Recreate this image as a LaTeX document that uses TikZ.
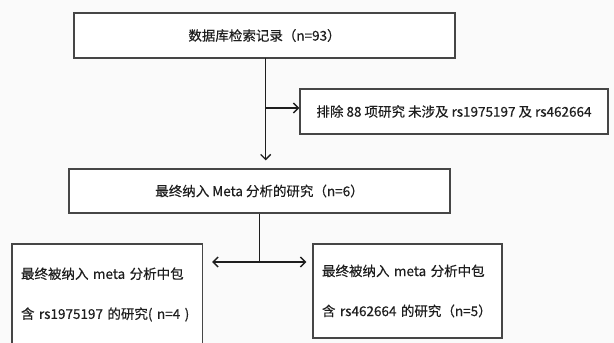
\documentclass[tikz,border=0pt]{standalone}
\usepackage{fontspec}
\setmainfont{Noto Sans CJK SC}[FakeBold=0.35]
\usetikzlibrary{arrows.meta}
\definecolor{bg}{RGB}{250,250,250}
\definecolor{edge}{RGB}{70,70,70}
\definecolor{ink}{RGB}{30,30,30}
\tikzset{
  box/.style={draw=edge, line width=1.4pt, fill=white, inner sep=0pt, text=ink,
    font={\fontsize{13.5}{40}\selectfont}},
  link/.style={draw=ink, line width=1.3pt},
  tip/.style={-{Straight Barb[length=5pt,width=10pt,line width=1.3pt]}}
}
\begin{document}
\begin{tikzpicture}[x=1pt,y=-1pt]
\fill[bg] (0,0) rectangle (614,343);
\useasboundingbox (0,0) rectangle (614,343);
\node[box, minimum width=381pt, minimum height=45pt] (a) at (264.5,35.5) {\raisebox{-2pt}{数据库检索记录（n=93）}};
\node[box, minimum width=308pt, minimum height=45pt] (ex) at (454,111.5) {排除 88 项研究 未涉及 rs1975197 及 rs462664};
\node[box, minimum width=381pt, minimum height=44pt] (b) at (259.5,191) {最终纳入 Meta 分析的研究（n=6）};
\node[fill=white, minimum width=190pt, minimum height=101pt, inner sep=0pt, text=ink,
  font={\fontsize{13.5}{40}\selectfont}, text width=172pt, align=left] (l) at (107,294.5)
  {最终被纳入 meta 分析中包\\含 rs1975197 的研究( n=4 )};
\draw[edge, line width=1.4pt] (l.south west) |- (l.north east) -- (l.south east);
\node[box, minimum width=189pt, minimum height=94pt, text width=171pt, align=left] (r) at (407.5,291)
  {最终被纳入 meta 分析中包\\含 rs462664 的研究（n=5）};
\coordinate (j1) at (265.7,108);
\coordinate (top) at (265.7,58);
\draw[link] (top) -- (j1);
\draw[link, tip, shorten >=8pt] (j1) -- (j1 |- b.north);
\draw[link, tip] (j1) -- (j1 -| ex.west);
\coordinate (j2) at (259.5,262);
\draw[link] (b.south) -- (j2);
\draw[link, tip, shorten >=10pt] (j2) -- (j2 -| l.east);
\draw[link, tip, shorten >=6pt] (j2) -- (j2 -| r.west);
\end{tikzpicture}
\end{document}
